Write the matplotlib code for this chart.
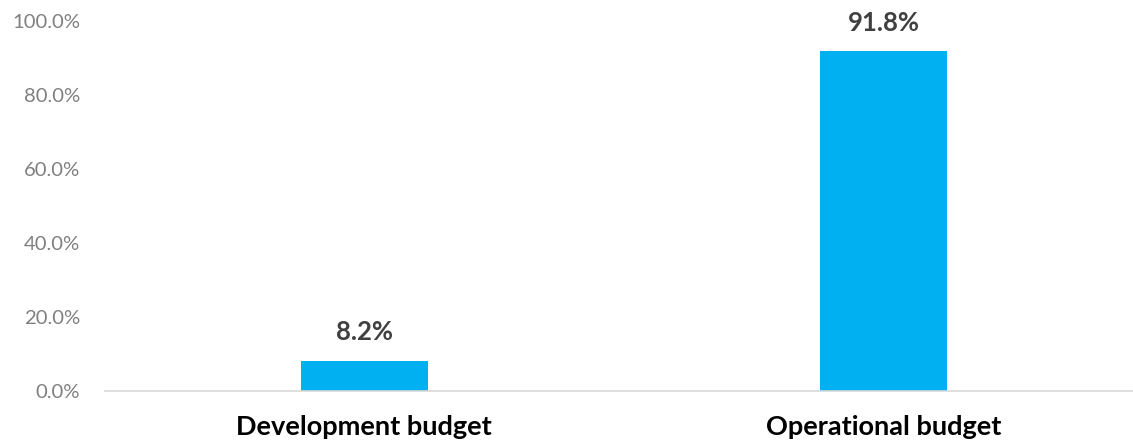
import matplotlib.pyplot as plt
from matplotlib.ticker import FuncFormatter

categories = ["Development budget", "Operational budget"]
shares = [8.2, 91.8]
y_ticks = [0, 20, 40, 60, 80, 100]

plt.rcParams["font.family"] = ["Lato", "DejaVu Sans"]

fig = plt.figure(figsize=(11.33, 4.46), dpi=100)
ax = fig.add_axes([104.5 / 1133, 1 - 391 / 446, (1133 - 104.5) / 1133, (391 - 21) / 446])

x = range(len(categories))
bars = ax.bar(x, shares, width=0.245, color="#00B0F0", zorder=2)

for bar, val in zip(bars, shares):
    ax.annotate(f"{val:.1f}%", (bar.get_x() + bar.get_width() / 2, val),
                xytext=(0, 12), textcoords="offset points",
                ha="center", va="bottom", fontsize=18.5, fontweight="bold",
                color="#404040")

ax.set_xlim(-0.5, 1.48)
ax.set_ylim(0, 100)
ax.set_yticks(y_ticks)
ax.yaxis.set_major_formatter(FuncFormatter(lambda v, _: f"{v:.1f}%"))
ax.set_xticks(list(x))
ax.set_xticklabels(categories, fontsize=19.5, fontweight="bold", color="black")

for side in ["top", "right", "left"]:
    ax.spines[side].set_visible(False)
ax.spines["bottom"].set_color("#D9D9D9")
ax.spines["bottom"].set_linewidth(1.2)
ax.tick_params(axis="y", length=0, pad=17.5, labelsize=14.6, labelcolor="#808080")
ax.tick_params(axis="x", length=0, pad=17)

fig.savefig("out.png", dpi=100)
